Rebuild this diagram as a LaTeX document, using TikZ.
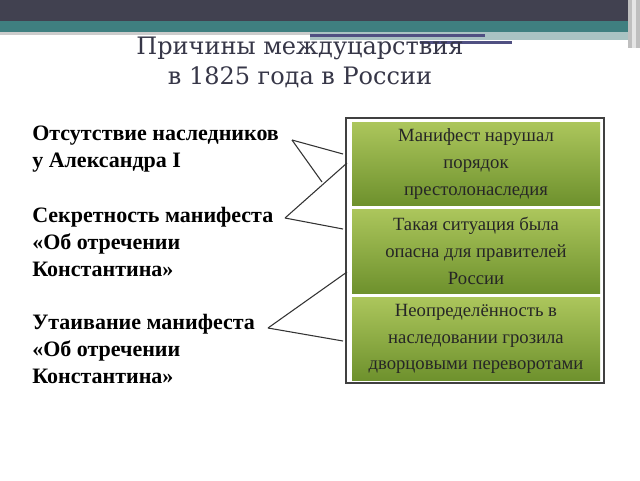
\documentclass[tikz,border=0pt]{standalone}
\usepackage{fontspec}
\setmainfont{Liberation Serif}
\newfontfamily\titlefont{DejaVu Serif}
\definecolor{gtop}{RGB}{172,198,92}
\definecolor{gbot}{RGB}{110,145,45}
\begin{document}
\begin{tikzpicture}[x=0.75pt,y=-0.75pt,
  gbox/.style={top color=gtop, bottom color=gbot},
  ltext/.style={anchor=west,font=\bfseries\fontsize{16.5}{20.5}\selectfont,align=left,inner sep=0pt},
  btext/.style={font=\fontsize{14}{20}\selectfont,align=center,text=black!85},
  conn/.style={draw=black!80,line width=0.8pt}]
\useasboundingbox (0,0) rectangle (640,480);
\fill[white] (0,0) rectangle (640,480);
% header
\fill[fill={rgb,255:red,65;green,65;blue,80}] (0,0) rectangle (628,21);
\fill[fill={rgb,255:red,63;green,127;blue,128}] (0,21) rectangle (628,32);
\fill[black!20] (0,32) rectangle (310,35);
\fill[fill={rgb,255:red,170;green,195;blue,195}] (310,32) rectangle (628,40);
\fill[fill={rgb,255:red,80;green,80;blue,130}] (310,34) rectangle (485,37);
\fill[fill={rgb,255:red,80;green,80;blue,130}] (420,41) rectangle (512,44);
\fill[black!25] (628,0) rectangle (640,48);
\fill[black!10] (632,0) rectangle (636,48);
% title
\node[font=\titlefont\fontsize{18}{22.5}\selectfont,text={rgb,255:red,55;green,55;blue,72},align=center] (title) at (300,62) {Причины междуцарствия\\в 1825 года в России};
% right frame
\node[draw=black!75,line width=1.5pt,fill=white,minimum width=193.5pt,minimum height=199pt,inner sep=0pt] (frame) at (475,250.5) {};
\fill[gbox] (352,122) rectangle (600,205);
\fill[gbox] (352,209) rectangle (600,293);
\fill[gbox] (352,297) rectangle (600,380);
\node[btext] (b1) at (476,164) {Манифест нарушал\\порядок\\престолонаследия};
\node[btext] (b2) at (476,251) {Такая ситуация была\\опасна для правителей\\России};
\node[btext] (b3) at (476,339) {Неопределённость в\\наследовании грозила\\дворцовыми переворотами};
% left texts
\node[ltext] (t1) at (32,149) {Отсутствие наследников\\у Александра I};
\node[ltext] (t2) at (32,242) {Секретность манифеста\\«Об отречении\\Константина»};
\node[ltext] (t3) at (32,349) {Утаивание манифеста\\«Об отречении\\Константина»};
% connectors
\coordinate (p1) at (292,140);
\coordinate (p2) at (285,218);
\coordinate (p3) at (268,328);
\coordinate (q1) at (322,182);
\draw[conn] (p1) -- (343,154);
\draw[conn] (p1) -- (q1);
\draw[conn] (p2) -- (347,163);
\draw[conn] (p2) -- (343,229);
\draw[conn] (p3) -- (347,272);
\draw[conn] (p3) -- (343,341);
\end{tikzpicture}
\end{document}
